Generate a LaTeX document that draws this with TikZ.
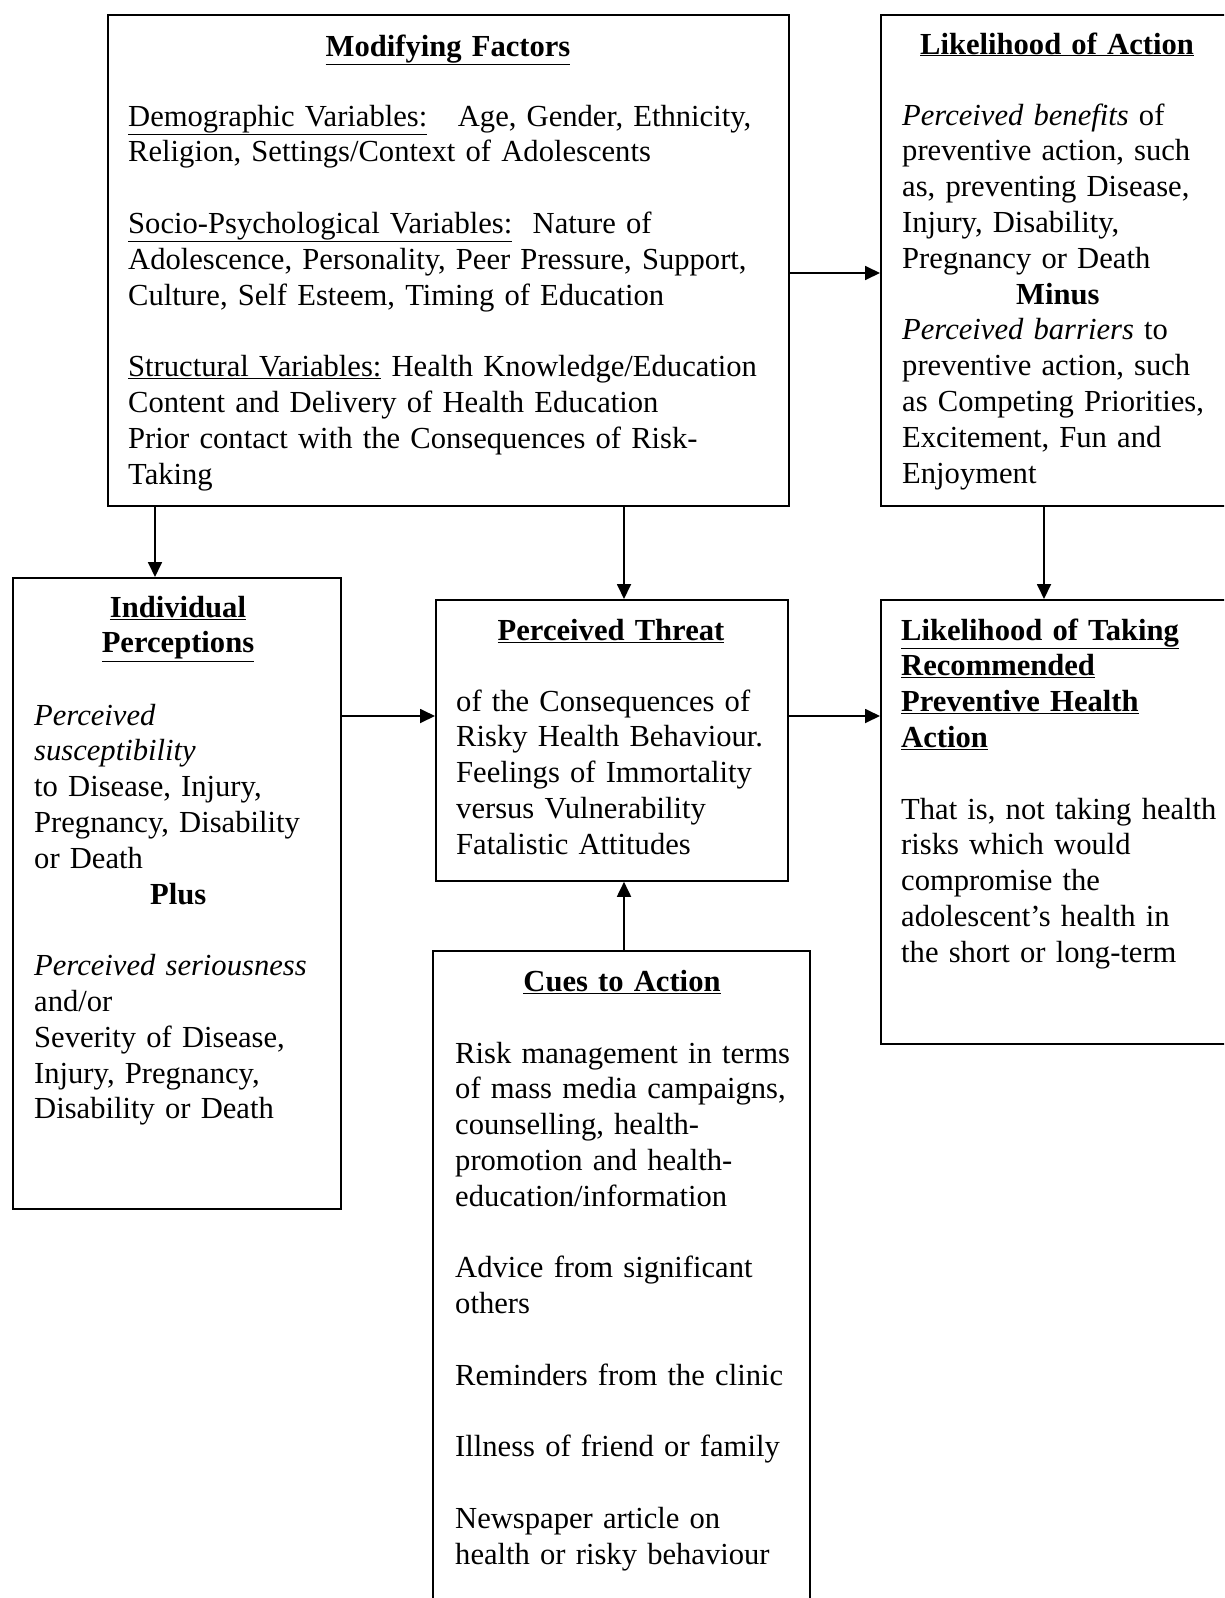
\documentclass[tikz,border=0pt]{standalone}
\usepackage{fontspec}
\setmainfont{Liberation Serif}
\usetikzlibrary{arrows.meta,positioning}

\begin{document}
\begin{tikzpicture}[x=1pt, y=-1pt,
	box/.style={draw, line width=1.8pt, inner sep=0pt, anchor=north west},
	txt/.style={inner sep=0pt, text width=680pt, align=left, anchor=base west, font=\fontsize{30.6}{35.8}\selectfont},
	ttl/.style={inner sep=0pt, text width=400pt, align=center, anchor=base, font=\fontsize{30.6}{35.8}\selectfont\bfseries},
	arr/.style={line width=1.8pt, -{Triangle[length=15pt, width=14pt]}}]
		\clip (0,0) rectangle (1224,1598);
		\fill[white] (0,0) rectangle (1224,1598);
		\coordinate (xa) at (155,0);
		\coordinate (xb) at (624,0);
		\coordinate (xc) at (1044,0);
		\coordinate (ya) at (0,273);
		\coordinate (yb) at (0,716);
		
		\node[box, minimum width=681pt, minimum height=491pt] (mod) at (107,14) {};
		\node[box, minimum width=360pt, minimum height=491pt] (likeact) at (880,14) {};
		\node[box, minimum width=328pt, minimum height=631pt] (indiv) at (12,577) {};
		\node[box, minimum width=352pt, minimum height=281pt] (threat) at (435,599) {};
		\node[box, minimum width=360pt, minimum height=444pt] (taking) at (880,599) {};
		\node[box, minimum width=377pt, minimum height=680pt] (cues) at (432,950) {};
		
		\node[ttl] (modttl) at (448,56) {\underline{Modifying Factors}};
		\node[txt] (modtxt) at (128,126) {\underline{Demographic Variables:}\ \ \ Age, Gender, Ethnicity,\\
			Religion, Settings/Context of Adolescents\\[\baselineskip]
			\underline{Socio-Psychological Variables:}\ \ Nature of\\
			Adolescence, Personality, Peer Pressure, Support,\\
			Culture, Self Esteem, Timing of Education\\[\baselineskip]
			\underline{Structural Variables:} Health Knowledge/Education\\
			Content and Delivery of Health Education\\
			Prior contact with the Consequences of Risk-\\
			Taking};
		
		\node[ttl] (likeactttl) at (1057,54) {\underline{Likelihood of Action}};
		\node[txt] (likeacttxt) at (902,125) {\textit{Perceived benefits} of\\
			preventive action, such\\
			as, preventing Disease,\\
			Injury, Disability,\\
			Pregnancy or Death\\
			\hspace*{114pt}\textbf{Minus}\\
			\textit{Perceived barriers} to\\
			preventive action, such\\
			as Competing Priorities,\\
			Excitement, Fun and\\
			Enjoyment};
		
		\node[ttl] (indivttl) at (178,617) {\underline{Individual}\\\underline{Perceptions}};
		\node[txt] (indivtxt) at (34,725) {\textit{Perceived}\\
			\textit{susceptibility}\\
			to Disease, Injury,\\
			Pregnancy, Disability\\
			or Death\\
			\hspace*{116pt}\textbf{Plus}\\[\baselineskip]
			\textit{Perceived seriousness}\\
			and/or\\
			Severity of Disease,\\
			Injury, Pregnancy,\\
			Disability or Death};
		
		\node[ttl] (threatttl) at (611,640) {\underline{Perceived Threat}};
		\node[txt] (threattxt) at (456,711) {of the Consequences of\\
			Risky Health Behaviour.\\
			Feelings of Immortality\\
			versus Vulnerability\\
			Fatalistic Attitudes};
		
		\node[txt, font=\fontsize{30.6}{35.8}\selectfont\bfseries] (takingttl) at (901,640) {\underline{Likelihood of Taking}\\
			\underline{Recommended}\\
			\underline{Preventive Health}\\
			\underline{Action}};
		\node[txt] (takingtxt) at (901,819) {That is, not taking health\\
			risks which would\\
			compromise the\\
			adolescent's health in\\
			the short or long-term};
		
		\node[ttl] (cuesttl) at (622,991) {\underline{Cues to Action}};
		\node[txt] (cuestxt) at (455,1063) {Risk management in terms\\
			of mass media campaigns,\\
			counselling, health-\\
			promotion and health-\\
			education/information\\[\baselineskip]
			Advice from significant\\
			others\\[\baselineskip]
			Reminders from the clinic\\[\baselineskip]
			Illness of friend or family\\[\baselineskip]
			Newspaper article on\\
			health or risky behaviour};
		
		\draw[arr] (mod.south -| xa) -- (indiv.north -| xa);
		\draw[arr] (mod.south -| xb) -- (threat.north -| xb);
		\draw[arr] (likeact.south -| xc) -- (taking.north -| xc);
		\draw[arr] (mod.east |- ya) -- (likeact.west |- ya);
		\draw[arr] (indiv.east |- yb) -- (threat.west |- yb);
		\draw[arr] (threat.east |- yb) -- (taking.west |- yb);
		\draw[arr] (cues.north -| xb) -- (threat.south -| xb);
	\end{tikzpicture}
\end{document}
